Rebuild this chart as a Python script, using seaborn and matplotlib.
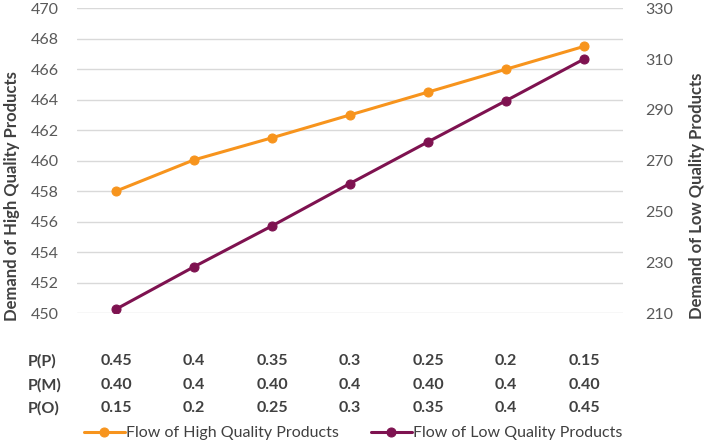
import numpy as np
import pandas as pd
import matplotlib
matplotlib.use('Agg')
import matplotlib.pyplot as plt
import matplotlib.transforms as mtransforms
import seaborn as sns

# ── Data ──────────────────────────────────────────────────────────────────────
p_p = ["0.45", "0.4", "0.35", "0.3", "0.25", "0.2", "0.15"]
p_m = ["0.40", "0.4", "0.40", "0.4", "0.40", "0.4", "0.40"]
p_o = ["0.15", "0.2", "0.25", "0.3", "0.35", "0.4", "0.45"]
high_flow = [458.0, 460.05, 461.5, 463.0, 464.5, 466.0, 467.5]
low_flow  = [211.5, 228.2, 244.3, 261.0, 277.4, 293.6, 310.0]

HIGH_C = '#F7941D'
LOW_C  = '#7E1250'
TXT_C  = '#595959'

df = pd.DataFrame({"x": np.arange(len(p_p)), "high": high_flow, "low": low_flow})

sns.set_style("white")
plt.rcParams['font.family'] = ['Lato', 'DejaVu Sans']

fig = plt.figure(figsize=(7.10, 4.44), dpi=100)
ax = fig.add_axes([77/710, 1 - 313/444, (623 - 77)/710, (313 - 8.3)/444])
ax2 = ax.twinx()

sns.lineplot(data=df, x="x", y="high", ax=ax, color=HIGH_C, linewidth=2.2,
             marker='o', markersize=6.5, markeredgecolor=HIGH_C,
             label="Flow of High Quality Products", legend=False)
sns.lineplot(data=df, x="x", y="low", ax=ax2, color=LOW_C, linewidth=2.2,
             marker='o', markersize=6.5, markeredgecolor=LOW_C,
             label="Flow of Low Quality Products", legend=False)

ax.set_xlim(-0.5, len(p_p) - 0.5)
ax.set_ylim(450, 470)
ax.set_yticks(np.arange(450, 471, 2))
ax2.set_ylim(210, 330)
ax2.set_yticks(np.arange(210, 331, 20))

ax.grid(axis='y', color='#D9D9D9', linewidth=1.0)
ax.set_axisbelow(True)
for a in (ax, ax2):
    for s in a.spines.values():
        s.set_visible(False)
    a.tick_params(axis='both', length=0, labelsize=11.5, colors=TXT_C)
ax.set_xticks([])
ax.set_xlabel("")
ax2.set_xlabel("")
ax.tick_params(axis='y', pad=13)
ax2.tick_params(axis='y', pad=16)

ax.set_ylabel("Demand of High Quality Products", fontsize=12, fontweight='bold',
              color='#404040')
ax2.set_ylabel("Demand of Low Quality Products", fontsize=12, fontweight='bold',
               color='#404040', rotation=90)
ax.yaxis.set_label_coords(-0.104, 0.384)
ax2.yaxis.set_label_coords(1.121, 0.384)

# ── Probability table under the axis ──────────────────────────────────────────
trans = mtransforms.blended_transform_factory(ax.transData, fig.transFigure)
rows = [("P(P)", p_p, 361), ("P(M)", p_m, 385), ("P(O)", p_o, 408)]
for name, vals, ypix in rows:
    yf = 1 - ypix / 444
    fig.text(28/710, yf, name, ha='left', va='center', fontsize=11.5,
             fontweight='bold', color='#404040')
    for i, v in enumerate(vals):
        ax.text(i, yf, v, transform=trans, ha='center', va='center',
                fontsize=11.5, fontweight='bold', color='#404040')

# ── Legend ────────────────────────────────────────────────────────────────────
h1, l1 = ax.get_legend_handles_labels()
h2, l2 = ax2.get_legend_handles_labels()
fig.legend(h1 + h2, l1 + l2, loc='center', bbox_to_anchor=(353/710, 1 - 433/444),
           ncol=2, frameon=False, fontsize=11.5, handlelength=2.6,
           handletextpad=0.05, columnspacing=2.0, labelcolor='#404040')

fig.savefig("out.png", dpi=100)
